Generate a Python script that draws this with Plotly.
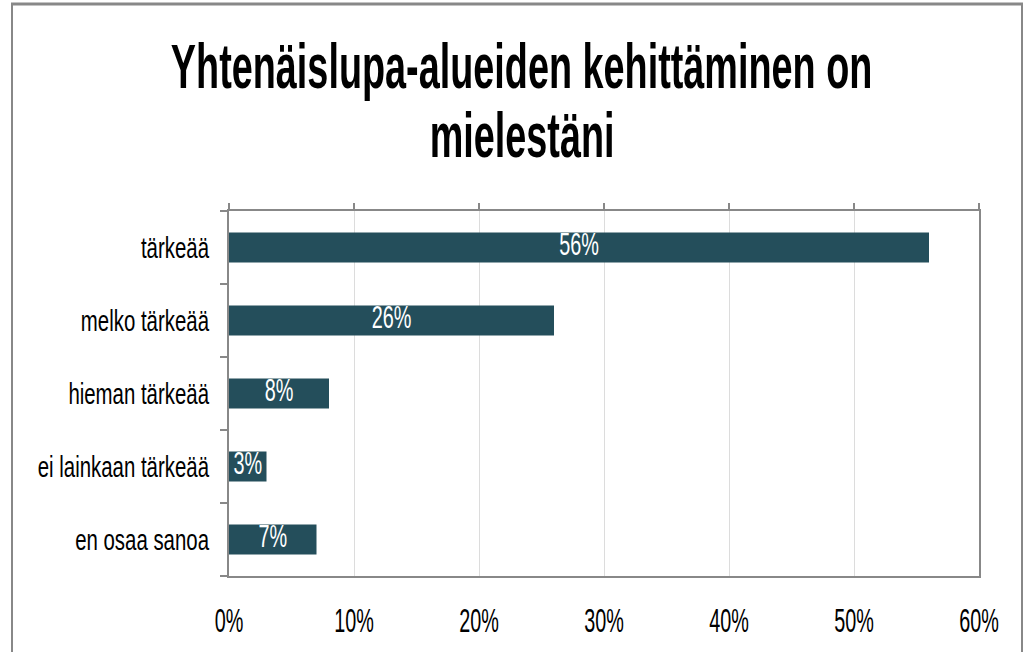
import plotly.graph_objects as go

categories = ["tärkeää", "melko tärkeää", "hieman tärkeää", "ei lainkaan tärkeää", "en osaa sanoa"]
values = [56, 26, 8, 3, 7]
tick_vals = [0, 10, 20, 30, 40, 50, 60]
tick_text = ["0%", "10%", "20%", "30%", "40%", "50%", "60%"]
title_lines = ["Yhtenäislupa-alueiden kehittäminen on", "mielestäni"]

W, H = 1032, 652
L, R, T, B = 229, 979, 211, 576
FONT = "Liberation Sans, Arial, sans-serif"

fig = go.Figure()
fig.add_trace(go.Bar(
    x=values, y=categories, orientation="h",
    marker=dict(color="#244e5b", line=dict(width=0)),
    width=0.41, hoverinfo="skip",
))
# value labels centred on each bar
fig.add_trace(go.Scatter(
    x=[v / 2 for v in values], y=categories, mode="text",
    text=[f"{v}%" for v in values], textposition="middle center",
    textfont=dict(color="white", size=31, family=FONT),
    hoverinfo="skip", showlegend=False, cliponaxis=False,
))
# invisible trace on the top axis so that it is drawn
fig.add_trace(go.Scatter(x=[0, 60], y=[categories[0], categories[0]], xaxis="x2",
                         mode="markers", marker=dict(opacity=0), hoverinfo="skip",
                         showlegend=False))


def px_x(p):
    return (p - L) / (R - L)


def px_y(p):
    return (B - p) / (B - T)


shapes = [
    dict(type="line", xref="paper", yref="paper", x0=px_x(11), x1=px_x(1023), y0=px_y(4), y1=px_y(4),
         line=dict(color="#888888", width=3)),
    dict(type="line", xref="paper", yref="paper", x0=px_x(12), x1=px_x(12), y0=px_y(4), y1=px_y(660),
         line=dict(color="#888888", width=2)),
    dict(type="line", xref="paper", yref="paper", x0=px_x(1022), x1=px_x(1022), y0=px_y(4), y1=px_y(660),
         line=dict(color="#888888", width=2)),
]

annotations = [
    dict(text=title_lines[0], xref="paper", yref="paper", x=px_x(521), y=px_y(66),
         xanchor="center", yanchor="middle", showarrow=False,
         font=dict(family=FONT, size=63, color="black", weight="bold")),
    dict(text=title_lines[1], xref="paper", yref="paper", x=px_x(522), y=px_y(135),
         xanchor="center", yanchor="middle", showarrow=False,
         font=dict(family=FONT, size=63, color="black", weight="bold")),
]

fig.update_layout(
    width=W, height=H,
    margin=dict(l=L, r=W - R, t=T, b=H - B),
    paper_bgcolor="white", plot_bgcolor="white",
    showlegend=False,
    xaxis=dict(range=[0, 60], tickvals=tick_vals, ticktext=tick_text,
               showgrid=True, gridcolor="#dcdcdc", gridwidth=1,
               showline=True, linecolor="#888888", linewidth=2, mirror=True,
               ticks="", zeroline=False, automargin=False,
               tickfont=dict(family=FONT, size=33, color="black"),
               ticklabelstandoff=14),
    xaxis2=dict(range=[0, 60], overlaying="x", side="top", tickvals=tick_vals,
                showticklabels=False, ticks="outside", ticklen=7, tickwidth=2,
                tickcolor="#888888", showgrid=False, showline=False, zeroline=False),
    yaxis=dict(categoryorder="array", categoryarray=categories[::-1],
               showline=True, linecolor="#888888", linewidth=2, mirror=True,
               ticks="outside", tickson="boundaries", ticklen=7, tickwidth=2,
               tickcolor="#888888", showgrid=False, automargin=False,
               tickfont=dict(family=FONT, size=30, color="black"),
               ticklabelstandoff=12),
    shapes=shapes,
    annotations=annotations,
)

# the reference uses a condensed (Arial Narrow-like) face; squeeze glyphs horizontally
post = """
document.body.style.margin = '0';
var gd = document.getElementById('{plot_id}');
function squeeze(sel, f){
  gd.querySelectorAll(sel).forEach(function(t){
    if (t.getAttribute('data-sq')) return;
    t.setAttribute('data-sq', '1');
    var len = t.getComputedTextLength();
    if (len > 0) {
      t.setAttribute('textLength', (len * f).toFixed(2));
      t.setAttribute('lengthAdjust', 'spacingAndGlyphs');
    }
  });
}
squeeze('g.ytick text', 0.68);
squeeze('g.textpoint text', 0.64);
squeeze('g.xtick text', 0.6);
squeeze('g.annotation text', 0.6);
"""

fig.write_html("out.html", post_script=post, config={"displayModeBar": False})
